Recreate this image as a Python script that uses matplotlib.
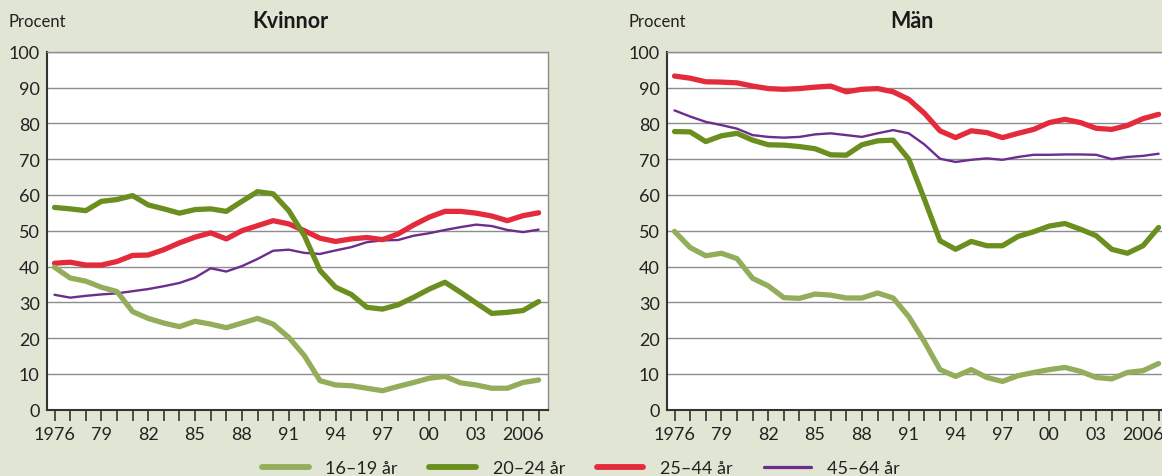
import matplotlib
matplotlib.use("Agg")
import matplotlib.pyplot as plt
from matplotlib.lines import Line2D

plt.rcParams['font.family'] = ['Lato', 'DejaVu Sans']

years = list(range(1976, 2008))
tick_years = list(range(1976, 2007, 3))
tick_labels = ['1976', '79', '82', '85', '88', '91', '94', '97', '00', '03', '2006']
series_names = ['16–19 år', '20–24 år', '25–44 år', '45–64 år']
panel_titles = ['Kvinnor', 'Män']

# Kvinnor
k_16_19 = [39.8, 36.8, 35.9, 34.2, 33.0, 27.4, 25.5, 24.2, 23.2, 24.7, 23.9, 22.9, 24.2, 25.5, 23.9, 20.2,
           15.1, 8.1, 6.9, 6.7, 6.0, 5.3, 6.5, 7.6, 8.8, 9.3, 7.5, 6.9, 6.0, 6.0, 7.6, 8.3]
k_20_24 = [56.5, 56.1, 55.6, 58.2, 58.7, 59.8, 57.2, 56.1, 54.9, 55.9, 56.1, 55.4, 58.2, 60.9, 60.3, 55.6,
           48.6, 38.9, 34.2, 32.2, 28.6, 28.1, 29.3, 31.4, 33.7, 35.6, 32.8, 29.8, 26.9, 27.2, 27.7, 30.2]
k_25_44 = [40.9, 41.2, 40.4, 40.4, 41.4, 43.1, 43.2, 44.7, 46.6, 48.2, 49.4, 47.7, 50.0, 51.4, 52.8, 51.9,
           50.0, 47.9, 47.0, 47.7, 48.1, 47.5, 49.1, 51.6, 53.8, 55.4, 55.4, 54.9, 54.1, 52.8, 54.2, 55.0]
k_45_64 = [32.1, 31.3, 31.8, 32.2, 32.5, 33.1, 33.7, 34.5, 35.4, 36.9, 39.5, 38.6, 40.1, 42.1, 44.4, 44.7,
           43.8, 43.5, 44.5, 45.4, 46.8, 47.3, 47.4, 48.6, 49.3, 50.2, 51.0, 51.7, 51.3, 50.2, 49.6, 50.3]

# Män
m_16_19 = [49.8, 45.3, 43.0, 43.7, 42.2, 36.7, 34.6, 31.3, 31.1, 32.3, 32.0, 31.2, 31.2, 32.6, 31.2, 26.0,
           19.0, 11.2, 9.3, 11.2, 9.0, 7.9, 9.5, 10.4, 11.2, 11.8, 10.7, 9.0, 8.6, 10.4, 10.9, 12.9]
m_20_24 = [77.7, 77.6, 74.9, 76.5, 77.2, 75.3, 74.0, 73.9, 73.5, 72.9, 71.2, 71.1, 74.0, 75.1, 75.3, 70.0,
           58.8, 47.2, 44.8, 47.0, 45.8, 45.8, 48.4, 49.7, 51.3, 52.0, 50.4, 48.6, 44.8, 43.7, 45.8, 50.9]
m_25_44 = [93.2, 92.6, 91.6, 91.5, 91.3, 90.4, 89.7, 89.5, 89.7, 90.1, 90.4, 88.8, 89.5, 89.7, 88.8, 86.7,
           82.8, 77.9, 76.0, 77.9, 77.4, 76.0, 77.2, 78.3, 80.2, 81.1, 80.2, 78.6, 78.3, 79.4, 81.3, 82.5]
m_45_64 = [83.6, 81.9, 80.4, 79.5, 78.5, 76.7, 76.2, 76.0, 76.2, 76.9, 77.2, 76.7, 76.2, 77.2, 78.1, 77.2,
           74.1, 70.1, 69.2, 69.8, 70.2, 69.8, 70.6, 71.2, 71.2, 71.3, 71.3, 71.2, 70.0, 70.6, 70.9, 71.5]

colors = ['#93ad5b', '#6a8f1e', '#e42b3c', '#6b2d8e']
widths = [3.8, 3.8, 3.8, 1.7]
bg = '#e1e5d3'

fig = plt.figure(figsize=(11.62, 4.77), dpi=100, facecolor=bg)
W, H = 1162, 477

def make_axes(x0, x1, y_top, y_bot):
    return fig.add_axes([x0 / W, (H - y_bot) / H, (x1 - x0) / W, (y_bot - y_top) / H])

ax_k = make_axes(46.7, 548, 52.7, 410.7)
ax_m = make_axes(666.7, 1168, 52.7, 410.7)

panels = [(ax_k, [k_16_19, k_20_24, k_25_44, k_45_64], panel_titles[0], 290),
          (ax_m, [m_16_19, m_20_24, m_25_44, m_45_64], panel_titles[1], 912)]

for ax, data, title, tx in panels:
    ax.set_facecolor('white')
    for i in [3, 2, 1, 0]:
        ax.plot(years, data[i], color=colors[i], lw=widths[i], solid_capstyle='round',
                solid_joinstyle='round', zorder=3 + (3 - i))
    ax.set_xlim(1975.5, 2007.6)
    ax.set_ylim(0, 100)
    ax.set_yticks(range(0, 101, 10))
    ax.yaxis.grid(True, color='#8c8c8c', lw=1.0)
    ax.set_axisbelow(True)
    ax.set_xticks(years)
    ax.set_xticklabels([tick_labels[tick_years.index(y)] if y in tick_years else '' for y in years])
    ax.tick_params(axis='x', length=8, width=1.2, color='#333333', direction='out', pad=4,
                   labelsize=13, labelcolor='#222222')
    ax.tick_params(axis='y', length=0, pad=5, labelsize=13, labelcolor='#222222')
    for s in ['left', 'bottom']:
        ax.spines[s].set_color('#333333')
        ax.spines[s].set_linewidth(1.5)
    for s in ['top', 'right']:
        ax.spines[s].set_color('#8c8c8c')
        ax.spines[s].set_linewidth(1.0)
    fig.text(tx / W, 1 - 22 / H, title, ha='center', va='center', fontsize=15.5,
             fontweight='bold', color='#1a1a1a')

fig.text(8 / W, 1 - 22 / H, 'Procent', ha='left', va='center', fontsize=12, color='#222222')
fig.text(628 / W, 1 - 22 / H, 'Procent', ha='left', va='center', fontsize=12, color='#222222')

handles = [Line2D([0], [0], color=colors[i], lw=widths[i] + (0.6 if i == 3 else 0.4),
                  solid_capstyle='round') for i in range(4)]
fig.legend(handles, series_names, loc='center', bbox_to_anchor=(581 / W, 1 - 469 / H), ncol=4,
           frameon=False, fontsize=13, handlelength=2.6, handletextpad=0.9, columnspacing=1.75,
           labelcolor='#222222', borderpad=0)

fig.savefig('out.png', dpi=100, facecolor=bg)
